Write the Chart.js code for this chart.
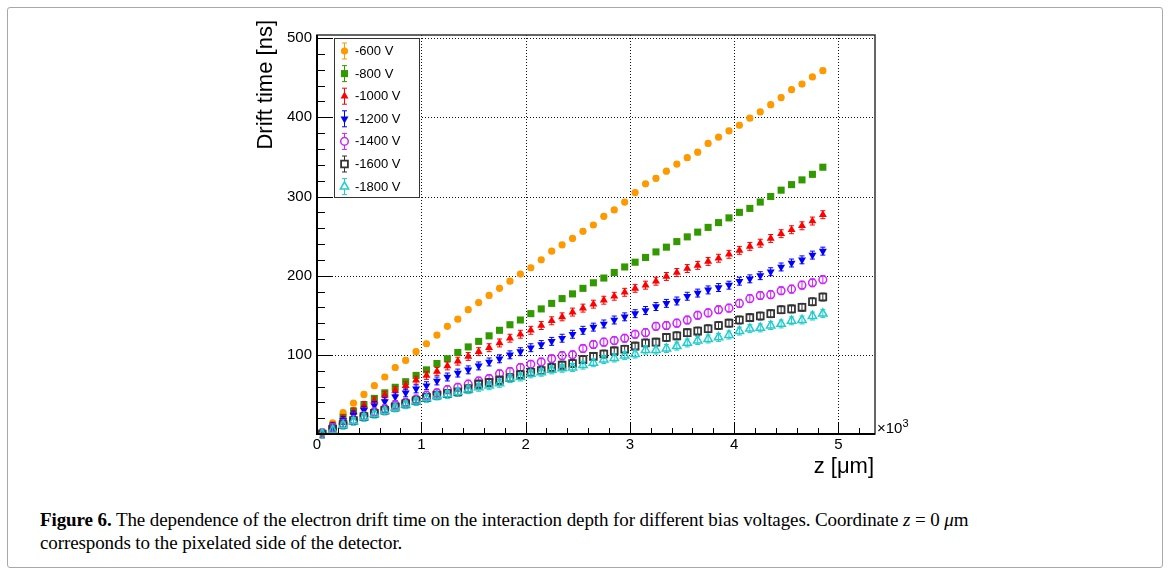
<!DOCTYPE html>
<html>
<head>
<meta charset="utf-8">
<script src="https://cdn.jsdelivr.net/npm/chart.js@4.4.0/dist/chart.umd.min.js"></script>
<style>
  html, body { margin: 0; padding: 0; background: #fff; }
  body { width: 1170px; height: 575px; position: relative; overflow: hidden; }
  #box { position: absolute; left: 7px; top: 7px; width: 1154px; height: 559px; border: 1px solid #a8a8a8; border-radius: 3px; }
  #c { position: absolute; left: 0; top: 0; }
  #cap { position: absolute; left: 40px; top: 508px; width: 1110px; font-family: "Liberation Serif", "DejaVu Serif", serif; font-size: 19px; line-height: 23px; color: #000; letter-spacing: -0.1px; }
</style>
</head>
<body>
<div id="box"></div>
<canvas id="c" width="1170" height="490"></canvas>
<div id="cap"><b>Figure 6.</b> The dependence of the electron drift time on the interaction depth for different bias voltages. Coordinate <i>z</i> = 0 <i>μ</i>m<br>corresponds to the pixelated side of the detector.</div>
<script>
// ---- data (z in µm, drift time in ns) ----
const zValues = [50,150,250,350,450,550,650,750,850,950,1050,1150,1250,1350,1450,1550,1650,1750,1850,1950,2050,2150,2250,2350,2450,2550,2650,2750,2850,2950,3050,3150,3250,3350,3450,3550,3650,3750,3850,3950,4050,4150,4250,4350,4450,4550,4650,4750,4850];
const drift600  = [2,14,27,39,50,61,72,84,93,104,114,125,136,145,157,166,175,184,193,202,210,220,231,239,247,256,264,275,283,293,305,316,323,332,341,349,356,367,375,383,390,399,407,416,425,435,442,451,459];
const drift800  = [1,10,21,29,37,45,52,59,66,74,81,89,95,103,110,117,124,131,138,144,152,158,165,171,177,184,191,197,204,211,217,223,230,236,243,249,255,261,267,273,280,285,293,300,308,315,321,328,337];
const drift1000 = [1,10,19,28,36,42,49,55,61,68,74,79,86,92,98,104,109,115,121,126,131,137,143,148,154,159,164,169,174,179,184,188,193,199,204,209,213,218,222,227,232,237,241,247,253,258,263,269,277];
const drift1200 = [1,9,17,24,30,36,41,47,52,57,61,67,72,77,81,86,91,95,100,104,109,113,117,121,126,131,135,139,144,148,152,156,161,165,168,174,178,182,185,188,193,196,200,205,211,216,220,226,231];
const drift1400 = [1,8,13,18,23,28,32,37,40,44,49,52,56,59,63,67,70,76,79,84,88,91,95,99,100,108,113,116,118,121,126,128,136,137,140,144,150,153,157,159,165,171,175,176,181,183,188,191,195];
const drift1600 = [0,6,12,17,22,26,30,34,38,42,46,49,51,53,57,63,65,68,71,75,78,80,84,87,89,94,98,101,105,107,111,115,116,122,124,128,130,133,137,140,144,147,149,152,157,158,160,167,173];
const drift1800 = [0,5,11,16,21,25,29,33,37,41,45,48,50,53,56,59,61,64,70,72,76,78,81,83,84,87,90,94,96,99,101,106,106,108,111,115,118,120,122,125,130,133,134,137,139,143,144,149,152];
const seriesLabels = ['-600 V','-800 V','-1000 V','-1200 V','-1400 V','-1600 V','-1800 V'];
const seriesErrors = [3, 3, 5, 5, 5, 5, 5];   // ns
const xTicks = [0,1000,2000,3000,4000,5000];
const xTickLabels = ['0','1','2','3','4','5'];
const yTicks = [100,200,300,400,500];
const yTickLabels = ['100','200','300','400','500'];

const allSeries = [drift600, drift800, drift1000, drift1200, drift1400, drift1600, drift1800];

// styles
const styles = [
  {color:'#ff9900', pointStyle:'circle',   radius:3.6, rot:0,   fill:true,  bw:0},
  {color:'#339900', pointStyle:'rect',     radius:5.0, rot:0,   fill:true,  bw:0},
  {color:'#ff0000', pointStyle:'triangle', radius:4.6, rot:0,   fill:true,  bw:0},
  {color:'#0000ff', pointStyle:'triangle', radius:4.6, rot:180, fill:true,  bw:0},
  {color:'#cc22ff', pointStyle:'circle',   radius:3.8, rot:0,   fill:false, bw:1.5},
  {color:'#333333', pointStyle:'rect',     radius:4.8, rot:0,   fill:false, bw:1.8},
  {color:'#22cccc', pointStyle:'triangle', radius:4.8, rot:0,   fill:false, bw:1.5}
];

const datasets = allSeries.map((vals, i) => ({
  label: seriesLabels[i],
  data: zValues.map((z, k) => ({x: z, y: vals[k]})),
  pointStyle: styles[i].pointStyle,
  pointRotation: styles[i].rot,
  pointRadius: styles[i].radius,
  pointBackgroundColor: styles[i].fill ? styles[i].color : 'rgba(0,0,0,0)',
  pointBorderColor: styles[i].color,
  pointBorderWidth: styles[i].bw,
  showLine: false,
  order: allSeries.length - i
}));

const FONT = '"Liberation Sans", Arial, sans-serif';

function line(ctx, x1, y1, x2, y2) { ctx.beginPath(); ctx.moveTo(x1, y1); ctx.lineTo(x2, y2); ctx.stroke(); }

const rootPlugin = {
  id: 'rootStyle',
  beforeDatasetsDraw(chart) {
    const {ctx, chartArea: a, scales: {x, y}} = chart;
    ctx.save();
    ctx.strokeStyle = '#111';
    ctx.lineWidth = 1;
    ctx.setLineDash([1, 2]);
    xTicks.forEach(v => { if (v === 0) return; const px = Math.round(x.getPixelForValue(v)) + 0.5; line(ctx, px, a.top, px, a.bottom); });
    yTicks.forEach(v => { const py = Math.round(y.getPixelForValue(v)) + 0.5; line(ctx, a.left, py, a.right, py); });
    ctx.restore();
  },
  beforeDatasetDraw(chart, args) {
    const {ctx} = chart;
    const i = args.index;
    const y = chart.scales.y;
    const meta = args.meta;
    ctx.save();
    ctx.strokeStyle = styles[i].color;
    ctx.lineWidth = 1;
    meta.data.forEach((pt, k) => {
      const v = allSeries[i][k];
      const y1 = y.getPixelForValue(v - seriesErrors[i]);
      const y2 = y.getPixelForValue(v + seriesErrors[i]);
      line(ctx, pt.x, y1, pt.x, y2);
      line(ctx, pt.x - 2.5, y1, pt.x + 2.5, y1);
      line(ctx, pt.x - 2.5, y2, pt.x + 2.5, y2);
    });
    ctx.restore();
  },
  afterDatasetsDraw(chart) {
    const {ctx, chartArea: a, scales: {x, y}} = chart;
    ctx.save();
    // frame
    ctx.strokeStyle = '#333';
    ctx.lineWidth = 1.5;
    ctx.strokeRect(a.left, a.top, a.right - a.left, a.bottom - a.top);
    ctx.strokeStyle = '#000';
    ctx.lineWidth = 2;
    line(ctx, a.left, a.top, a.left, a.bottom + 1);
    line(ctx, a.left - 1, a.bottom, a.right, a.bottom);
    // ticks
    ctx.lineWidth = 1;
    for (let v = 0; v <= 5300; v += 200) {
      const px = Math.round(x.getPixelForValue(v)) + 0.5;
      const len = (v % 1000 === 0) ? 12 : 6;
      line(ctx, px, a.bottom, px, a.bottom - len);
    }
    for (let v = 0; v <= 500; v += 20) {
      const py = Math.round(y.getPixelForValue(v)) + 0.5;
      const len = (v % 100 === 0) ? 16 : 8;
      line(ctx, a.left, py, a.left + len, py);
    }
    // axis titles
    ctx.fillStyle = '#000';
    ctx.font = '22px ' + FONT;
    ctx.textBaseline = 'middle';
    ctx.textAlign = 'right';
    ctx.fillText('z [\u03bcm]', a.right - 1, 467);
    ctx.save();
    ctx.translate(266, 20);
    ctx.rotate(-Math.PI / 2);
    ctx.textAlign = 'right';
    ctx.fillText('Drift time [ns]', 0, 0);
    ctx.restore();
    // exponent
    ctx.textAlign = 'left';
    ctx.textBaseline = 'alphabetic';
    ctx.font = '15px ' + FONT;
    ctx.fillText('\u00d710', a.right + 2, 433);
    const w = ctx.measureText('\u00d710').width;
    ctx.font = '11px ' + FONT;
    ctx.fillText('3', a.right + 2 + w, 427);
    // legend
    const lx = 334, ly = 38, lw = 85, lh = 159;
    ctx.fillStyle = '#fff';
    ctx.fillRect(lx, ly, lw, lh);
    ctx.strokeStyle = '#333';
    ctx.lineWidth = 1;
    ctx.strokeRect(lx + 0.5, ly + 0.5, lw, lh);
    ctx.font = '13px ' + FONT;
    ctx.textBaseline = 'middle';
    seriesLabels.forEach((lab, i) => {
      const cy = 51 + i * 22.6;
      const cx = 344.5;
      const s = styles[i];
      ctx.strokeStyle = s.color;
      ctx.lineWidth = 1;
      line(ctx, cx, cy - 8, cx, cy + 8);
      line(ctx, cx - 2.5, cy - 8, cx + 2.5, cy - 8);
      line(ctx, cx - 2.5, cy + 8, cx + 2.5, cy + 8);
      ctx.fillStyle = s.fill ? s.color : '#fff';
      ctx.lineWidth = s.bw;
      Chart.helpers.drawPoint(ctx, {pointStyle: s.pointStyle, rotation: s.rot, radius: s.radius, borderWidth: s.bw}, cx, cy);
      ctx.fillStyle = '#000';
      ctx.fillText(lab, 355, cy + 0.5);
    });
    ctx.restore();
  }
};

new Chart(document.getElementById('c'), {
  type: 'scatter',
  data: { datasets },
  options: {
    responsive: false,
    animation: false,
    devicePixelRatio: 1,
    layout: { padding: { left: 267, top: 35, right: 295, bottom: 26 } },
    plugins: { legend: { display: false }, tooltip: { enabled: false } },
    scales: {
      x: {
        type: 'linear', min: 0, max: 5350,
        grid: { display: false, drawTicks: false },
        border: { display: false },
        afterBuildTicks: s => { s.ticks = xTicks.map(v => ({value: v})); },
        afterFit: s => { s.height = 30; },
        ticks: { padding: 2, color: '#000', font: { family: FONT, size: 15 }, maxRotation: 0,
                 callback: v => { const i = xTicks.indexOf(v); return i >= 0 ? xTickLabels[i] : ''; } }
      },
      y: {
        type: 'linear', min: 0, max: 504,
        grid: { display: false, drawTicks: false },
        border: { display: false },
        afterBuildTicks: s => { s.ticks = yTicks.map(v => ({value: v})); },
        afterFit: s => { s.width = 50; },
        ticks: { padding: 5, color: '#000', font: { family: FONT, size: 15 },
                 callback: v => { const i = yTicks.indexOf(v); return i >= 0 ? yTickLabels[i] : ''; } }
      }
    }
  },
  plugins: [rootPlugin]
});
</script>
</body>
</html>
